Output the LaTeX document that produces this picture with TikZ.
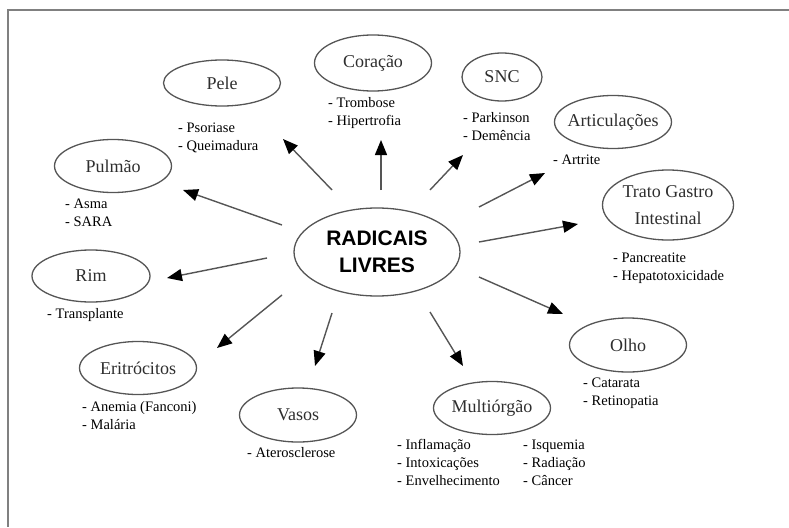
\documentclass[tikz,border=0pt]{standalone}
\usepackage{fontspec}
\setmainfont{Liberation Serif}
\newfontfamily\radfont{Liberation Sans}
\usetikzlibrary{calc,shapes.geometric,arrows.meta}

\definecolor{framegray}{HTML}{808080}
\definecolor{linegray}{HTML}{555555}
\definecolor{textgray}{HTML}{2E2E2E}

\tikzset{
    organ/.style={ellipse, draw=linegray, line width=1.3pt, inner sep=-7pt,
        minimum width=117pt, minimum height=53pt, text=textgray,
        font=\fontsize{18}{27}\selectfont, align=center},
    sub/.style={anchor=base west, inner sep=0pt, align=left,
        font=\fontsize{14.5}{18}\selectfont},
    arr/.style={linegray, line width=1.4pt,
        -{Triangle[length=15pt,width=12pt,color=black]}},
}

\begin{document}
\begin{tikzpicture}[x=1pt, y=-1pt]
        \useasboundingbox (0, 0) rectangle (789, 527);

        % frame, only the top and left sides show
        \draw[framegray, line width=2.2pt] (789, 10) -- (8, 10) -- (8, 527);

        \node[ellipse, draw=linegray, line width=1.3pt, inner sep=0pt,
            minimum width=166pt, minimum height=88pt, align=center,
            font=\radfont\bfseries\fontsize{21}{27}\selectfont] (Rad) at (377, 252) {RADICAIS\\LIVRES};

        \node[organ, minimum height=46pt] (Pele) at (222, 83) {Pele};
        \node[organ, minimum height=56pt] (Cor) at (373, 63) {Coração};
        \node[organ, minimum width=80pt, minimum height=48pt] (SNC) at (502, 77) {SNC};
        \node[organ] (Art) at (613, 122) {Articulações};
        \node[organ, minimum width=131pt, minimum height=70pt] (Trato) at (668, 205) {Trato Gastro\\Intestinal};
        \node[organ, minimum height=54pt] (Olho) at (628, 345) {Olho};
        \node[organ] (Multi) at (492, 408) {Multiórgão};
        \node[organ, minimum height=54pt] (Vasos) at (298, 415) {Vasos};
        \node[organ] (Erit) at (138, 368) {Eritrócitos};
        \node[organ, minimum width=118pt, minimum height=52pt] (Rim) at (91, 276) {Rim};
        \node[organ] (Pulm) at (113, 166) {Pulmão};

        % lists under each organ (placed at the baseline of their last line)
        \node[sub] (PeleL) at (178, 150) {- Psoriase\\- Queimadura};
        \node[sub] (CorL) at (328, 125) {- Trombose\\- Hipertrofia};
        \node[sub] (SNCL) at (463, 140) {- Parkinson\\- Demência};
        \node[sub] (ArtL) at (553, 164) {- Artrite};
        \node[sub] (TratoL) at (613, 280) {- Pancreatite\\- Hepatotoxicidade};
        \node[sub] (OlhoL) at (583, 405) {- Catarata\\- Retinopatia};
        \node[sub] (MultiL) at (397, 485) {- Inflamação\\- Intoxicações\\- Envelhecimento};
        \node[sub] (MultiR) at (523, 485) {- Isquemia\\- Radiação\\- Câncer};
        \node[sub] (VasosL) at (247, 457) {- Aterosclerose};
        \node[sub] (EritL) at (82, 429) {- Anemia (Fanconi)\\- Malária};
        \node[sub] (RimL) at (47, 318) {- Transplante};
        \node[sub] (PulmL) at (65, 226) {- Asma\\- SARA};

        % arrows leave the centre with a gap at both ends
        \draw[arr] ($(Rad)+(-45, -62)$) -- ($(Pele)+(61, 56)$);
        \draw[arr] ($(Rad)+(4, -62)$) -- ($(Cor)+(8, 77)$);
        \draw[arr] ($(Rad)+(53, -62)$) -- ($(SNC)+(-39, 78)$);
        \draw[arr] ($(Rad)+(102, -45)$) -- ($(Art)+(-68, 51)$);
        \draw[arr] ($(Rad)+(102, -10)$) -- ($(Trato)+(-90, 19)$);
        \draw[arr] ($(Rad)+(102, 25)$) -- ($(Olho)+(-65, -31)$);
        \draw[arr] ($(Rad)+(53, 60)$) -- ($(Multi)+(-29, -42)$);
        \draw[arr] ($(Rad)+(-45, 61)$) -- ($(Vasos)+(17, -49)$);
        \draw[arr] ($(Rad)+(-95, 43)$) -- ($(Erit)+(79, -20)$);
        \draw[arr] ($(Rad)+(-110, 6)$) -- ($(Rim)+(76, 2)$);
        \draw[arr] ($(Rad)+(-95, -27)$) -- ($(Pulm)+(70, 24)$);

    \end{tikzpicture}
\end{document}
